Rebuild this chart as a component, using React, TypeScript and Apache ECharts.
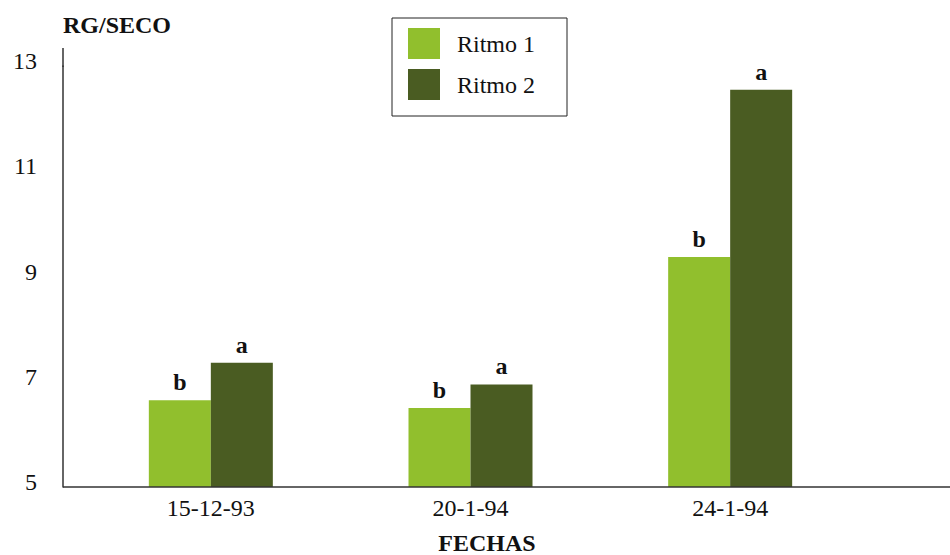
import React, { useEffect, useRef } from "react";
import * as echarts from "echarts";

const categories = ["15-12-93", "20-1-94", "24-1-94"];
const ritmo1 = [6.65, 6.5, 9.37];
const ritmo2 = [7.36, 6.95, 12.55];
const ritmo1Letters = ["b", "b", "b"];
const ritmo2Letters = ["a", "a", "a"];
const yTicks = { min: 5, max: 13, interval: 2 };

const SERIF = "'Liberation Serif', 'Times New Roman', serif";
const C1 = "#91bf2d";
const C2 = "#4a5c22";

export default function App() {
  const ref = useRef<HTMLDivElement>(null);
  useEffect(() => {
    document.body.style.margin = "0";
    const chart = echarts.init(ref.current!, undefined, { renderer: "svg" });
    const letterLabel = (letters: string[]) => ({
      show: true,
      position: "top",
      distance: 6,
      fontFamily: SERIF,
      fontWeight: "bold",
      fontSize: 24,
      color: "#111",
      formatter: (p: any) => letters[p.dataIndex],
    });
    chart.setOption({
      animation: false,
      backgroundColor: "#ffffff",
      grid: { left: 81, right: 90, top: 66, bottom: 68 },
      legend: {
        orient: "vertical",
        left: 392,
        top: 18,
        padding: [10, 32, 16, 16],
        itemWidth: 32,
        itemHeight: 31,
        itemGap: 10,
        borderColor: "#222",
        borderWidth: 1,
        icon: "rect",
        textStyle: {
          fontFamily: SERIF,
          fontSize: 24,
          color: "#111",
          padding: [0, 0, 0, 12],
        },
        data: ["Ritmo 1", "Ritmo 2"],
      },
      xAxis: {
        type: "category",
        data: categories,
        axisLine: { show: false },
        axisTick: { show: false },
        axisLabel: {
          fontFamily: SERIF,
          fontSize: 24,
          color: "#111",
          margin: 9,
        },
      },
      yAxis: {
        type: "value",
        min: yTicks.min,
        max: yTicks.max,
        interval: yTicks.interval,
        offset: 18,
        axisLine: { show: true, lineStyle: { color: "#333", width: 1.5 } },
        axisTick: { show: false },
        splitLine: { show: false },
        axisLabel: {
          fontFamily: SERIF,
          fontSize: 24,
          color: "#111",
          margin: 26,
          verticalAlign: "bottom",
          lineHeight: 10,
        },
      },
      series: [
        {
          name: "Ritmo 1",
          type: "bar",
          data: ritmo1,
          barWidth: 62,
          barGap: "0%",
          itemStyle: { color: C1 },
          label: letterLabel(ritmo1Letters),
        },
        {
          name: "Ritmo 2",
          type: "bar",
          data: ritmo2,
          barWidth: 62,
          barGap: "0%",
          itemStyle: { color: C2 },
          label: letterLabel(ritmo2Letters),
        },
      ],
      graphic: [
        {
          type: "line",
          shape: { x1: 63, y1: 487, x2: 950, y2: 487 },
          style: { stroke: "#333", lineWidth: 1.5 },
          z: 10,
        },
        {
          type: "line",
          shape: { x1: 63, y1: 48, x2: 63, y2: 67 },
          style: { stroke: "#333", lineWidth: 1.5 },
        },
        {
          type: "text",
          x: 63,
          y: 25,
          style: {
            text: "RG/SECO",
            fontFamily: SERIF,
            fontWeight: "bold",
            fontSize: 24,
            fill: "#111",
            textAlign: "left",
            textVerticalAlign: "middle",
          },
        },
        {
          type: "text",
          x: 487,
          y: 543,
          style: {
            text: "FECHAS",
            fontFamily: SERIF,
            fontWeight: "bold",
            fontSize: 24,
            fill: "#111",
            textAlign: "center",
            textVerticalAlign: "middle",
          },
        },
      ],
    });
    return () => chart.dispose();
  }, []);
  return <div ref={ref} style={{ width: 950, height: 555 }} />;
}
